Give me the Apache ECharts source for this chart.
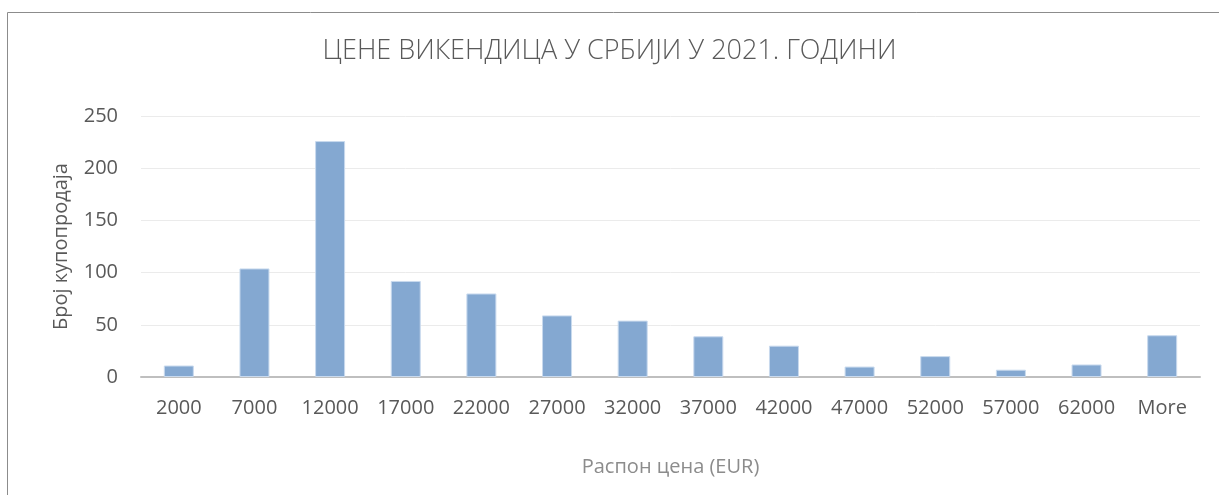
<!DOCTYPE html>
<html><head><meta charset="utf-8">
<script src="https://cdn.jsdelivr.net/npm/echarts@6/dist/echarts.min.js"></script>
<style>html,body{margin:0;padding:0;background:#fff}#c{width:1219px;height:495px}</style>
</head><body><div id="c"></div>
<script>
const categories = ['2000','7000','12000','17000','22000','27000','32000','37000','42000','47000','52000','57000','62000','More'];
const counts = [11,104,226,92,80,59,54,39,30,10,20,7,12,40];
const yTicks = {min:0, max:250, interval:50};
const titleText = 'ЦЕНЕ ВИКЕНДИЦА У СРБИЈИ У 2021. ГОДИНИ';
const xName = 'Распон цена (EUR)';
const yName = 'Број купопродаја';

const chart = echarts.init(document.getElementById('c'));
const font = 'Open Sans';
chart.setOption({
  animation:false,
  title:{text:titleText,left:'center',top:33,textStyle:{fontFamily:font,fontWeight:300,fontSize:27,color:'#595959'}},
  graphic:[{type:'rect',shape:{x:7.5,y:12.5,width:1400,height:700},style:{fill:'none',stroke:'#8c8c8c',lineWidth:1},silent:true}],
  grid:{left:141,right:19,top:116,bottom:118,containLabel:false},
  xAxis:{type:'category',data:categories,
    axisLine:{lineStyle:{color:'#bfbfbf',width:2}},axisTick:{show:false},
    axisLabel:{fontFamily:font,fontSize:20,color:'#595959',margin:21},
    name:xName,nameLocation:'middle',nameGap:80,
    nameTextStyle:{fontFamily:font,fontSize:20,color:'#8c8c8c'}},
  yAxis:{type:'value',min:yTicks.min,max:yTicks.max,interval:yTicks.interval,
    axisLine:{show:false},axisTick:{show:false},
    splitLine:{lineStyle:{color:'#ebebeb',width:1}},
    axisLabel:{fontFamily:font,fontSize:20,color:'#595959',margin:23},
    name:yName,nameLocation:'middle',nameGap:70,
    nameTextStyle:{fontFamily:font,fontSize:20,color:'#595959'}},
  series:[{type:'bar',data:counts,barWidth:30,
    itemStyle:{color:'#84a8d1',borderColor:'#c9daee',borderWidth:1}}]
});
</script></body></html>
